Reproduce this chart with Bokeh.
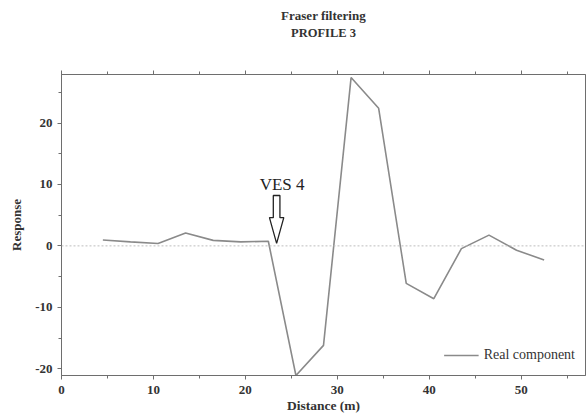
from bokeh.plotting import figure
from bokeh.models import (Range1d, LinearAxis, Span, Title, Label, FixedTicker,
                          Legend, LegendItem, CustomJSTickFormatter)
from bokeh.embed import file_html
from bokeh.resources import INLINE

# ---- data ----
distance = [4.5, 7.5, 10.5, 13.5, 16.5, 19.5, 22.5, 25.5, 28.5, 31.5, 34.5,
            37.5, 40.5, 43.5, 46.5, 49.5, 52.5]
real_component = [0.95, 0.65, 0.4, 2.1, 0.9, 0.65, 0.75, -21.1, -16.2, 27.4, 22.4,
                  -6.1, -8.6, -0.45, 1.75, -0.7, -2.3]
x_major = [0, 10, 20, 30, 40, 50]
x_minor = [5, 15, 25, 35, 45, 55]
y_major = [-20, -10, 0, 10, 20]
y_minor = [-15, -5, 5, 15, 25]

# annotation anchor (VES 4)
ves_label = "VES 4"
ves_x = 23.4
ves_tip = 0.4
ves_top = 8.2
ves_head = 4.6

SERIF = "Liberation Serif"
FRAME = "#6e6e6e"
TXT = "#333333"

p = figure(width=586, height=415, output_backend="svg", toolbar_location=None,
           x_range=Range1d(0, 57), y_range=Range1d(-21.1, 27.9),
           min_border_left=61, min_border_right=1, min_border_top=74,
           min_border_bottom=40)
p.grid.visible = False
p.background_fill_color = "white"
p.border_fill_color = "white"
p.outline_line_color = FRAME
p.outline_line_width = 1

def style_axis(ax):
    ax.axis_line_color = FRAME
    ax.major_tick_line_color = FRAME
    ax.minor_tick_line_color = FRAME
    ax.major_tick_line_width = 1
    ax.minor_tick_line_width = 1
    ax.major_tick_out = 4
    ax.major_tick_in = 0
    ax.minor_tick_out = 3
    ax.minor_tick_in = 0
    ax.major_label_text_font = SERIF
    ax.major_label_text_font_size = "13px"
    ax.major_label_text_font_style = "bold"
    ax.major_label_text_color = TXT
    ax.axis_label_text_font = SERIF
    ax.axis_label_text_font_size = "13.5px"
    ax.axis_label_text_font_style = "bold"
    ax.axis_label_text_color = TXT

p.xaxis.ticker = FixedTicker(ticks=x_major, minor_ticks=x_minor)
p.yaxis.ticker = FixedTicker(ticks=y_major, minor_ticks=y_minor)
p.yaxis.formatter = CustomJSTickFormatter(code="return String(tick)")
style_axis(p.xaxis[0])
style_axis(p.yaxis[0])
p.xaxis.axis_label = "Distance (m)"
p.xaxis.major_label_standoff = 6
p.xaxis.axis_label_standoff = 1
p.yaxis.axis_label = "Response"
p.yaxis.axis_label_text_font_size = "13px"
p.yaxis.major_label_standoff = 5
p.yaxis.axis_label_standoff = 8

# top axis: ticks only, with the sub-title as its label
top = LinearAxis(ticker=FixedTicker(ticks=x_major, minor_ticks=x_minor),
                 formatter=CustomJSTickFormatter(code="return ''"))
style_axis(top)
top.major_label_standoff = 0
top.axis_label = "PROFILE 3"
top.axis_label_text_font_size = "12.5px"
top.axis_label_standoff = 31
p.add_layout(top, "above")

p.add_layout(Title(text="Fraser filtering", align="center", text_font=SERIF,
                   text_font_size="13px", text_font_style="bold",
                   text_color=TXT, standoff=0), "above")

p.add_layout(Span(location=0, dimension="width", line_color="#bdbdbd",
                  line_dash="2 2", line_width=1))

r = p.line(distance, real_component, line_color="#8a8a8a", line_width=1.6)

# VES 4 hollow arrow
sw = 0.36   # shaft half width (data units)
hw = 0.78   # head half width
p.patch([ves_x - sw, ves_x + sw, ves_x + sw, ves_x + hw, ves_x, ves_x - hw, ves_x - sw],
        [ves_top, ves_top, ves_head, ves_head, ves_tip, ves_head, ves_head],
        fill_color="white", line_color="#222222", line_width=1.3)
p.add_layout(Label(x=ves_x + 0.6, y=ves_top + 1.8, text=ves_label, text_font=SERIF,
                   text_font_size="17px", text_color="#222222",
                   text_align="center", text_baseline="middle"))

legend = Legend(items=[LegendItem(label="Real component", renderers=[r])],
                location="bottom_right", border_line_alpha=0,
                background_fill_alpha=0, label_text_font=SERIF,
                label_text_font_size="14px", label_text_color=TXT,
                glyph_width=35, margin=6, padding=4, spacing=0)
p.add_layout(legend)

open("out.html", "w").write(file_html(p, INLINE))
